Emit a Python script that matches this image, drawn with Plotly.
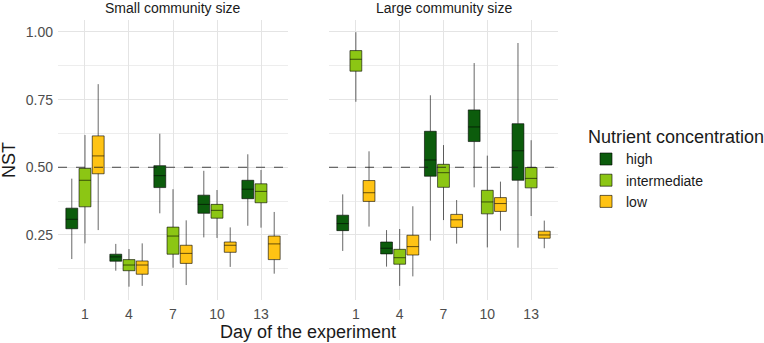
import plotly.graph_objects as go

days = [1, 4, 7, 10, 13]
nutrients = ["high", "intermediate", "low"]
fill_colors = {"high": "#0c5c0c", "intermediate": "#8cc614", "low": "#ffc314"}

# Small community size
small_high_lf = [0.161, 0.118, 0.330, 0.241, 0.284]
small_high_q1 = [0.273, 0.153, 0.425, 0.330, 0.384]
small_high_med = [0.308, 0.169, 0.469, 0.363, 0.419]
small_high_q3 = [0.349, 0.179, 0.506, 0.397, 0.452]
small_high_uf = [0.458, 0.217, 0.624, 0.487, 0.548]

small_int_lf = [0.219, 0.059, 0.129, 0.239, 0.277]
small_int_q1 = [0.354, 0.118, 0.179, 0.312, 0.369]
small_int_med = [0.452, 0.139, 0.246, 0.341, 0.411]
small_int_q3 = [0.496, 0.159, 0.279, 0.363, 0.439]
small_int_uf = [0.619, 0.198, 0.419, 0.416, 0.490]

small_low_lf = [0.268, 0.062, 0.065, 0.132, 0.107]
small_low_q1 = [0.476, 0.105, 0.145, 0.186, 0.159]
small_low_med = [0.542, 0.139, 0.182, 0.212, 0.217]
small_low_q3 = [0.616, 0.154, 0.212, 0.224, 0.246]
small_low_uf = [0.807, 0.219, 0.304, 0.278, 0.335]

# Large community size
large_high_lf = [0.191, 0.133, 0.229, 0.426, 0.203]
large_high_q1 = [0.266, 0.180, 0.467, 0.595, 0.452]
large_high_med = [0.292, 0.201, 0.527, 0.649, 0.561]
large_high_q3 = [0.323, 0.224, 0.633, 0.712, 0.661]
large_high_uf = [0.400, 0.268, 0.766, 0.885, 0.959]

large_int_lf = [0.742, 0.062, 0.305, 0.204, 0.320]
large_int_q1 = [0.855, 0.142, 0.426, 0.328, 0.424]
large_int_med = [0.899, 0.166, 0.480, 0.372, 0.459]
large_int_q3 = [0.931, 0.197, 0.511, 0.415, 0.499]
large_int_uf = [0.999, 0.272, 0.582, 0.543, 0.600]

large_low_lf = [0.281, 0.097, 0.218, 0.266, 0.201]
large_low_q1 = [0.374, 0.176, 0.278, 0.337, 0.238]
large_low_med = [0.406, 0.207, 0.306, 0.366, 0.250]
large_low_q3 = [0.451, 0.249, 0.326, 0.388, 0.264]
large_low_uf = [0.559, 0.356, 0.379, 0.447, 0.303]

y_tickvals = [0.25, 0.50, 0.75, 1.00]
y_ticktext = ["0.25", "0.50", "0.75", "1.00"]
y_minor = [0.125, 0.375, 0.625, 0.875]
panel_titles = ["Small community size", "Large community size"]

panels = {
    "x": {
        "high": (small_high_lf, small_high_q1, small_high_med, small_high_q3, small_high_uf),
        "intermediate": (small_int_lf, small_int_q1, small_int_med, small_int_q3, small_int_uf),
        "low": (small_low_lf, small_low_q1, small_low_med, small_low_q3, small_low_uf),
    },
    "x2": {
        "high": (large_high_lf, large_high_q1, large_high_med, large_high_q3, large_high_uf),
        "intermediate": (large_int_lf, large_int_q1, large_int_med, large_int_q3, large_int_uf),
        "low": (large_low_lf, large_low_q1, large_low_med, large_low_q3, large_low_uf),
    },
}

fig = go.Figure()
for xa, data in panels.items():
    for n in nutrients:
        lf, q1, med, q3, uf = data[n]
        fig.add_trace(go.Box(
            x=days, lowerfence=lf, q1=q1, median=med, q3=q3, upperfence=uf,
            name=n, legendgroup=n, showlegend=(xa == "x"), offsetgroup=n,
            fillcolor=fill_colors[n],
            line=dict(color="rgba(0,0,0,0.6)", width=1),
            whiskerwidth=0, boxpoints=False,
            xaxis=xa, yaxis="y",
        ))

W, H = 764, 343
left_dom = [58 / W, 288 / W]
right_dom = [329 / W, 558 / W]
y_dom = [1 - 300 / H, 1 - 20 / H]

grid_major = "#e4e4e4"
grid_minor = "#ededed"
xaxis_common = dict(
    range=[-0.84, 14.84], tickvals=days, ticktext=[str(d) for d in days],
    showgrid=True, gridcolor=grid_major, gridwidth=1, zeroline=False,
    showline=False, ticks="", tickfont=dict(size=14, color="#4d4d4d"),
    ticklabelstandoff=4, automargin=False,
)
fig.update_layout(
    width=W, height=H,
    margin=dict(l=0, r=0, t=0, b=0, autoexpand=False),
    paper_bgcolor="white", plot_bgcolor="white",
    font=dict(family="Liberation Sans, Arial, sans-serif", color="#1a1a1a"),
    boxmode="group", boxgap=0.1, boxgroupgap=0.1,
    xaxis=dict(domain=left_dom, anchor="y", **xaxis_common),
    xaxis2=dict(domain=right_dom, anchor="y", **xaxis_common),
    yaxis=dict(
        domain=y_dom, range=[0.0098, 1.044], tickvals=y_tickvals, ticktext=y_ticktext,
        showgrid=True, gridcolor=grid_major, gridwidth=1, zeroline=False,
        ticks="", tickfont=dict(size=14, color="#4d4d4d"), ticklabelstandoff=4,
        automargin=False,
        minor=dict(tickvals=y_minor, showgrid=True, gridcolor=grid_minor, gridwidth=0.8),
    ),
    legend=dict(
        x=586 / W, y=1 - 120 / H, xanchor="left", yanchor="top",
        title=dict(text="Nutrient concentration", font=dict(size=18, color="#1a1a1a")),
        font=dict(size=14, color="#1a1a1a"), tracegroupgap=0, itemwidth=30,
        bgcolor="rgba(0,0,0,0)",
    ),
    showlegend=True,
)

for xa in ["x domain", "x2 domain"]:
    fig.add_shape(type="line", xref=xa, yref="y", x0=0, x1=1, y0=0.5, y1=0.5,
                  line=dict(color="#1a1a1a", width=0.8, dash="dash"))

for dom, title in zip([left_dom, right_dom], panel_titles):
    fig.add_annotation(text=title, x=(dom[0] + dom[1]) / 2, y=1 - 8 / H,
                       xref="paper", yref="paper", showarrow=False,
                       font=dict(size=14, color="#1a1a1a"),
                       xanchor="center", yanchor="middle")

fig.add_annotation(text="Day of the experiment", x=308 / W, y=1 - 332 / H,
                   xref="paper", yref="paper", showarrow=False,
                   font=dict(size=18, color="#1a1a1a"),
                   xanchor="center", yanchor="middle")
fig.add_annotation(text="NST", x=9 / W, y=1 - 160 / H, textangle=-90,
                   xref="paper", yref="paper", showarrow=False,
                   font=dict(size=18, color="#1a1a1a"), xanchor="center", yanchor="middle")

fig.write_html("out.html")
